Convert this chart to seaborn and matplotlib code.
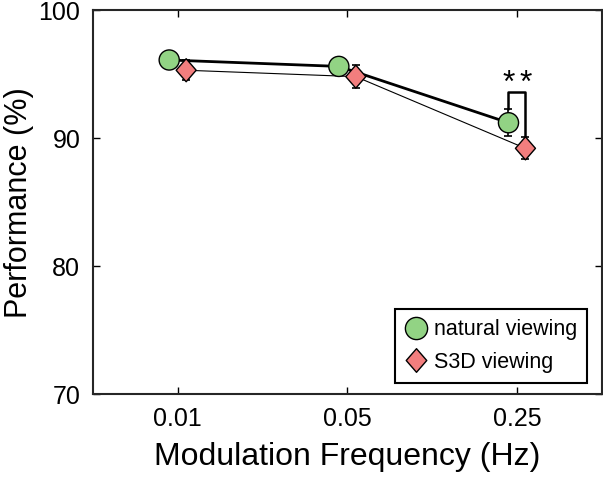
import numpy as np
import pandas as pd
import matplotlib
matplotlib.use("Agg")
import matplotlib.pyplot as plt
from matplotlib.lines import Line2D
from matplotlib.path import Path
import seaborn as sns

freqs = ["0.01", "0.05", "0.25"]
natural = [96.1, 95.6, 91.2]
natural_err = [0.3, 0.4, 1.05]
s3d = [95.3, 94.8, 89.2]
s3d_err = [0.8, 0.9, 0.85]

sns.set_style("ticks")
plt.rcParams["font.family"] = ["Liberation Sans", "DejaVu Sans"]
plt.rcParams["text.color"] = "black"
plt.rcParams["axes.labelcolor"] = "black"
plt.rcParams["xtick.color"] = "black"
plt.rcParams["ytick.color"] = "black"

green = "#92d384"
red = "#f27e7e"
# slightly tall diamond like the original
diamond = Path([(0, -1.15), (1, 0), (0, 1.15), (-1, 0), (0, -1.15)],
               [Path.MOVETO, Path.LINETO, Path.LINETO, Path.LINETO, Path.CLOSEPOLY])

fig = plt.figure(figsize=(6.03, 4.79), dpi=100)
ax = fig.add_axes([0.154, 0.177, 0.844, 0.802])

pos = np.arange(len(freqs))
off = 0.05
df = pd.DataFrame({
    "x": np.concatenate([pos - off, pos + off]),
    "perf": natural + s3d,
    "cond": ["natural viewing"] * 3 + ["S3D viewing"] * 3,
})

# error bars first so markers sit on top
ax.errorbar(pos - off, natural, yerr=natural_err, fmt="none", ecolor="black",
            elinewidth=1.2, capsize=3, capthick=1.2, zorder=2)
ax.errorbar(pos + off, s3d, yerr=s3d_err, fmt="none", ecolor="black",
            elinewidth=1.2, capsize=3, capthick=1.2, zorder=2)

ax.plot(pos - off, natural, color="black", lw=2.0, zorder=3)
ax.plot(pos + off, s3d, color="black", lw=0.8, zorder=3)

sns.scatterplot(data=df, x="x", y="perf", hue="cond", style="cond", size="cond",
                palette={"natural viewing": green, "S3D viewing": red},
                markers={"natural viewing": "o", "S3D viewing": diamond},
                sizes={"natural viewing": 210, "S3D viewing": 275},
                edgecolor="black", linewidth=1.0, ax=ax, zorder=4, legend=False)

# significance bracket between the two conditions at 0.25 Hz
i = 2
top = 93.6
ax.plot([i - off, i - off, i + off, i + off],
        [natural[i] + natural_err[i], top, top, s3d[i] + s3d_err[i]],
        color="black", lw=1.8, zorder=3)
for sx in (i - off, i + off):
    ax.text(sx, 93.6, "*", ha="center", va="baseline", fontsize=23)

handles = [
    Line2D([], [], marker="o", ls="none", markersize=16, markerfacecolor=green,
           markeredgecolor="black", markeredgewidth=1.0, label="natural viewing"),
    Line2D([], [], marker=diamond, ls="none", markersize=17, markerfacecolor=red,
           markeredgecolor="black", markeredgewidth=1.0, label="S3D viewing"),
]
leg = ax.legend(handles=handles, loc="lower right", bbox_to_anchor=(0.97, 0.03),
                fontsize=15.5, frameon=True, fancybox=False, handletextpad=0.25,
                borderpad=0.45, labelspacing=0.55, handlelength=1.1, borderaxespad=0)
leg.get_frame().set_edgecolor("black")
leg.get_frame().set_linewidth(1.5)
leg.get_frame().set_alpha(1)

ax.set_xlim(-0.5, 2.5)
ax.set_ylim(70, 100)
ax.set_xticks(pos)
ax.set_xticklabels(freqs)
ax.set_yticks([70, 80, 90, 100])
ax.set_xlabel("Modulation Frequency (Hz)", fontsize=23, labelpad=8)
ax.set_ylabel("Performance (%)", fontsize=22)
ax.yaxis.set_label_coords(-0.115, 0.5)
ax.tick_params(direction="in", top=True, right=True, labelsize=18, length=5, width=1, pad=9)
for s in ax.spines.values():
    s.set_linewidth(1.5)
    s.set_visible(True)

fig.savefig("out.png", dpi=100)
